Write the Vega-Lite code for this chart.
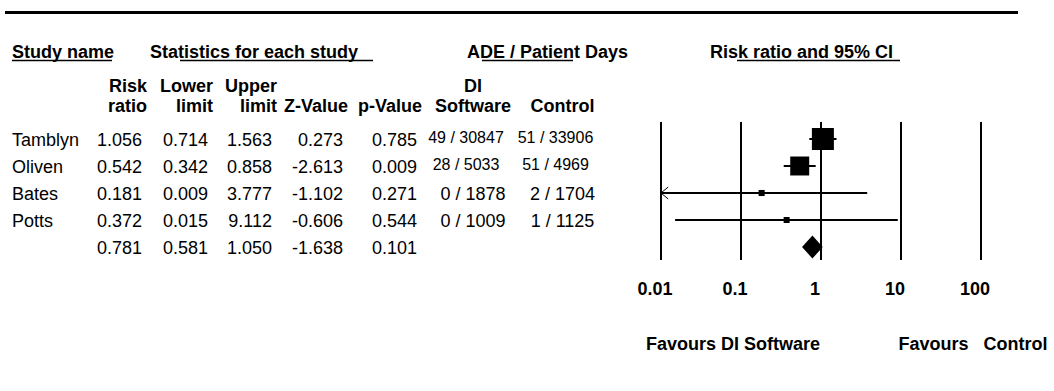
{
  "$schema": "https://vega.github.io/schema/vega-lite/v6.json",
  "width": 1054,
  "height": 391,
  "autosize": {"type": "none"},
  "padding": 0,
  "background": "white",
  "config": {"view": {"stroke": null}, "text": {"font": "Liberation Sans", "fontSize": 18, "color": "black"}, "rule": {"color": "black"}},
  "datasets": {
    "studies": [
      {"study": "Tamblyn", "kind": "study", "row": 0, "rr": 1.056, "lower": 0.714, "upper": 1.563, "weight": 57.1},
      {"study": "Oliven", "kind": "study", "row": 1, "rr": 0.542, "lower": 0.342, "upper": 0.858, "weight": 41.5},
      {"study": "Bates", "kind": "study", "row": 2, "rr": 0.181, "lower": 0.009, "upper": 3.777, "weight": 0.96},
      {"study": "Potts", "kind": "study", "row": 3, "rr": 0.372, "lower": 0.015, "upper": 9.112, "weight": 0.85},
      {"study": "Summary", "kind": "summary", "row": 4, "rr": 0.781, "lower": 0.581, "upper": 1.050, "weight": null}
    ],
    "cells": [
      {"row": -2, "col": 1, "text": "Risk"}, {"row": -2, "col": 2, "text": "Lower"}, {"row": -2, "col": 3, "text": "Upper"}, {"row": -2, "col": 6, "text": "DI"},
      {"row": -1, "col": 1, "text": "ratio"}, {"row": -1, "col": 2, "text": "limit"}, {"row": -1, "col": 3, "text": "limit"}, {"row": -1, "col": 4, "text": "Z-Value"}, {"row": -1, "col": 5, "text": "p-Value"}, {"row": -1, "col": 6, "text": "Software"}, {"row": -1, "col": 7, "text": "Control"},
      {"row": 0, "col": 0, "text": "Tamblyn"}, {"row": 0, "col": 1, "text": "1.056"}, {"row": 0, "col": 2, "text": "0.714"}, {"row": 0, "col": 3, "text": "1.563"}, {"row": 0, "col": 4, "text": "0.273"}, {"row": 0, "col": 5, "text": "0.785"}, {"row": 0, "col": 6, "text": "49 / 30847"}, {"row": 0, "col": 7, "text": "51 / 33906"},
      {"row": 1, "col": 0, "text": "Oliven"}, {"row": 1, "col": 1, "text": "0.542"}, {"row": 1, "col": 2, "text": "0.342"}, {"row": 1, "col": 3, "text": "0.858"}, {"row": 1, "col": 4, "text": "-2.613"}, {"row": 1, "col": 5, "text": "0.009"}, {"row": 1, "col": 6, "text": "28 / 5033"}, {"row": 1, "col": 7, "text": "51 / 4969"},
      {"row": 2, "col": 0, "text": "Bates"}, {"row": 2, "col": 1, "text": "0.181"}, {"row": 2, "col": 2, "text": "0.009"}, {"row": 2, "col": 3, "text": "3.777"}, {"row": 2, "col": 4, "text": "-1.102"}, {"row": 2, "col": 5, "text": "0.271"}, {"row": 2, "col": 6, "text": "0 / 1878"}, {"row": 2, "col": 7, "text": "2 / 1704"},
      {"row": 3, "col": 0, "text": "Potts"}, {"row": 3, "col": 1, "text": "0.372"}, {"row": 3, "col": 2, "text": "0.015"}, {"row": 3, "col": 3, "text": "9.112"}, {"row": 3, "col": 4, "text": "-0.606"}, {"row": 3, "col": 5, "text": "0.544"}, {"row": 3, "col": 6, "text": "0 / 1009"}, {"row": 3, "col": 7, "text": "1 / 1125"},
      {"row": 4, "col": 1, "text": "0.781"}, {"row": 4, "col": 2, "text": "0.581"}, {"row": 4, "col": 3, "text": "1.050"}, {"row": 4, "col": 4, "text": "-1.638"}, {"row": 4, "col": 5, "text": "0.101"}
    ],
    "headers": [
      {"text": "Study name", "at": 0, "us": 0, "ue": 1},
      {"text": "Statistics for each study", "at": 2, "us": 3, "ue": 4},
      {"text": "ADE / Patient Days", "at": 5, "us": 6, "ue": 7},
      {"text": "Risk ratio and 95% CI", "at": 8, "us": 9, "ue": 10}
    ],
    "ticks": [
      {"v": 0.01, "label": "0.01"}, {"v": 0.1, "label": "0.1"}, {"v": 1, "label": "1"}, {"v": 10, "label": "10"}, {"v": 100, "label": "100"}
    ],
    "favours": [
      {"at": 0.1, "text": "Favours DI Software"},
      {"at": 100, "text": "Favours\u00a0\u00a0\u00a0Control"}
    ]
  },
  "resolve": {"scale": {"x": "independent", "y": "independent", "size": "independent"}},
  "layer": [
    {
      "data": {"values": [{"line": "top"}]},
      "mark": {"type": "rule", "strokeWidth": 3},
      "encoding": {
        "x": {"datum": -1, "type": "quantitative", "scale": {"domain": [-1, 0, 1, 2, 3, 4, 5, 6, 7, 8, 9, 10, 11], "range": [5, 12, 112, 150, 180, 373, 467, 482, 573, 710, 737, 900, 1018], "nice": false, "zero": false}, "axis": null},
        "x2": {"datum": 11},
        "y": {"datum": -5, "type": "quantitative", "scale": {"domain": [-5, -4, -3, -2, -1, 0, 4, 5, 6, 7], "range": [12.5, 51.5, 60.5, 85, 105, 139, 247, 260, 288, 343.5], "nice": false, "zero": false}, "axis": null}
      }
    },
    {
      "data": {"name": "headers"},
      "mark": {"type": "text", "align": "left", "baseline": "alphabetic", "dy": 6.5, "fontWeight": "bold"},
      "encoding": {
        "x": {"field": "at", "type": "quantitative", "scale": {"domain": [-1, 0, 1, 2, 3, 4, 5, 6, 7, 8, 9, 10, 11], "range": [5, 12, 112, 150, 180, 373, 467, 482, 573, 710, 737, 900, 1018], "nice": false, "zero": false}, "axis": null},
        "y": {"datum": -4, "type": "quantitative", "scale": {"domain": [-5, -4, -3, -2, -1, 0, 4, 5, 6, 7], "range": [12.5, 51.5, 60.5, 85, 105, 139, 247, 260, 288, 343.5], "nice": false, "zero": false}, "axis": null},
        "text": {"field": "text"}
      }
    },
    {
      "data": {"name": "headers"},
      "mark": {"type": "rule", "strokeWidth": 1.5},
      "encoding": {
        "x": {"field": "us", "type": "quantitative", "scale": {"domain": [-1, 0, 1, 2, 3, 4, 5, 6, 7, 8, 9, 10, 11], "range": [5, 12, 112, 150, 180, 373, 467, 482, 573, 710, 737, 900, 1018], "nice": false, "zero": false}, "axis": null},
        "x2": {"field": "ue"},
        "y": {"datum": -3, "type": "quantitative", "scale": {"domain": [-5, -4, -3, -2, -1, 0, 4, 5, 6, 7], "range": [12.5, 51.5, 60.5, 85, 105, 139, 247, 260, 288, 343.5], "nice": false, "zero": false}, "axis": null}
      }
    },
    {
      "data": {"name": "cells"},
      "transform": [{"filter": "datum.row < 0 && datum.col <= 5"}],
      "mark": {"type": "text", "align": "right", "baseline": "alphabetic", "dx": 5, "dy": 6.5, "fontWeight": "bold"},
      "encoding": {
        "x": {"field": "col", "type": "quantitative", "scale": {"domain": [0, 1, 2, 3, 4, 5, 6, 7], "range": [12, 142, 208, 272, 343, 417, 473, 562.5], "nice": false, "zero": false}, "axis": null},
        "y": {"field": "row", "type": "quantitative", "scale": {"domain": [-5, -4, -3, -2, -1, 0, 4, 5, 6, 7], "range": [12.5, 51.5, 60.5, 85, 105, 139, 247, 260, 288, 343.5], "nice": false, "zero": false}, "axis": null},
        "text": {"field": "text"}
      }
    },
    {
      "data": {"name": "cells"},
      "transform": [{"filter": "datum.row < 0 && datum.col >= 6"}],
      "mark": {"type": "text", "align": "center", "baseline": "alphabetic", "dy": 6.5, "fontWeight": "bold"},
      "encoding": {
        "x": {"field": "col", "type": "quantitative", "scale": {"domain": [0, 1, 2, 3, 4, 5, 6, 7], "range": [12, 142, 208, 272, 343, 417, 473, 562.5], "nice": false, "zero": false}, "axis": null},
        "y": {"field": "row", "type": "quantitative", "scale": {"domain": [-5, -4, -3, -2, -1, 0, 4, 5, 6, 7], "range": [12.5, 51.5, 60.5, 85, 105, 139, 247, 260, 288, 343.5], "nice": false, "zero": false}, "axis": null},
        "text": {"field": "text"}
      }
    },
    {
      "data": {"name": "cells"},
      "transform": [{"filter": "datum.row >= 0 && datum.col == 0"}],
      "mark": {"type": "text", "align": "left", "baseline": "alphabetic", "dy": 6.5},
      "encoding": {
        "x": {"field": "col", "type": "quantitative", "scale": {"domain": [0, 1, 2, 3, 4, 5, 6, 7], "range": [12, 142, 208, 272, 343, 417, 473, 562.5], "nice": false, "zero": false}, "axis": null},
        "y": {"field": "row", "type": "quantitative", "scale": {"domain": [-5, -4, -3, -2, -1, 0, 4, 5, 6, 7], "range": [12.5, 51.5, 60.5, 85, 105, 139, 247, 260, 288, 343.5], "nice": false, "zero": false}, "axis": null},
        "text": {"field": "text"}
      }
    },
    {
      "data": {"name": "cells"},
      "transform": [{"filter": "datum.row >= 0 && datum.col >= 1 && datum.col <= 5"}],
      "mark": {"type": "text", "align": "right", "baseline": "alphabetic", "dy": 6.5},
      "encoding": {
        "x": {"field": "col", "type": "quantitative", "scale": {"domain": [0, 1, 2, 3, 4, 5, 6, 7], "range": [12, 142, 208, 272, 343, 417, 473, 562.5], "nice": false, "zero": false}, "axis": null},
        "y": {"field": "row", "type": "quantitative", "scale": {"domain": [-5, -4, -3, -2, -1, 0, 4, 5, 6, 7], "range": [12.5, 51.5, 60.5, 85, 105, 139, 247, 260, 288, 343.5], "nice": false, "zero": false}, "axis": null},
        "text": {"field": "text"}
      }
    },
    {
      "data": {"name": "cells"},
      "transform": [{"filter": "datum.row >= 0 && datum.col >= 6 && length(datum.text) <= 8"}],
      "mark": {"type": "text", "align": "center", "baseline": "alphabetic", "dy": 6.5},
      "encoding": {
        "x": {"field": "col", "type": "quantitative", "scale": {"domain": [0, 1, 2, 3, 4, 5, 6, 7], "range": [12, 142, 208, 272, 343, 417, 473, 562.5], "nice": false, "zero": false}, "axis": null},
        "y": {"field": "row", "type": "quantitative", "scale": {"domain": [-5, -4, -3, -2, -1, 0, 4, 5, 6, 7], "range": [12.5, 51.5, 60.5, 85, 105, 139, 247, 260, 288, 343.5], "nice": false, "zero": false}, "axis": null},
        "text": {"field": "text"}
      }
    },
    {
      "data": {"name": "cells"},
      "transform": [{"filter": "datum.row >= 0 && datum.col >= 6 && length(datum.text) > 8"}],
      "mark": {"type": "text", "align": "center", "baseline": "alphabetic", "dx": -7, "dy": 4, "fontSize": 16},
      "encoding": {
        "x": {"field": "col", "type": "quantitative", "scale": {"domain": [0, 1, 2, 3, 4, 5, 6, 7], "range": [12, 142, 208, 272, 343, 417, 473, 562.5], "nice": false, "zero": false}, "axis": null},
        "y": {"field": "row", "type": "quantitative", "scale": {"domain": [-5, -4, -3, -2, -1, 0, 4, 5, 6, 7], "range": [12.5, 51.5, 60.5, 85, 105, 139, 247, 260, 288, 343.5], "nice": false, "zero": false}, "axis": null},
        "text": {"field": "text"}
      }
    },
    {
      "data": {"name": "ticks"},
      "mark": {"type": "rule", "strokeWidth": 2},
      "encoding": {
        "x": {"field": "v", "type": "quantitative", "scale": {"type": "log", "domain": [0.01, 100], "range": [661, 981], "clamp": true, "nice": false}, "axis": null},
        "y": {"datum": -0.5, "type": "quantitative", "scale": {"domain": [-5, -4, -3, -2, -1, 0, 4, 5, 6, 7], "range": [12.5, 51.5, 60.5, 85, 105, 139, 247, 260, 288, 343.5], "nice": false, "zero": false}, "axis": null},
        "y2": {"datum": 5}
      }
    },
    {
      "data": {"name": "ticks"},
      "mark": {"type": "text", "align": "center", "baseline": "alphabetic", "dx": -6, "dy": 6.5, "fontWeight": "bold"},
      "encoding": {
        "x": {"field": "v", "type": "quantitative", "scale": {"type": "log", "domain": [0.01, 100], "range": [661, 981], "clamp": true, "nice": false}, "axis": null},
        "y": {"datum": 6, "type": "quantitative", "scale": {"domain": [-5, -4, -3, -2, -1, 0, 4, 5, 6, 7], "range": [12.5, 51.5, 60.5, 85, 105, 139, 247, 260, 288, 343.5], "nice": false, "zero": false}, "axis": null},
        "text": {"field": "label"}
      }
    },
    {
      "data": {"name": "studies"},
      "transform": [{"filter": "datum.kind == 'study'"}],
      "mark": {"type": "rule", "strokeWidth": 2},
      "encoding": {
        "x": {"field": "lower", "type": "quantitative", "scale": {"type": "log", "domain": [0.01, 100], "range": [661, 981], "clamp": true, "nice": false}, "axis": null},
        "x2": {"field": "upper"},
        "y": {"field": "row", "type": "quantitative", "scale": {"domain": [-5, -4, -3, -2, -1, 0, 4, 5, 6, 7], "range": [12.5, 51.5, 60.5, 85, 105, 139, 247, 260, 288, 343.5], "nice": false, "zero": false}, "axis": null}
      }
    },
    {
      "data": {"name": "studies"},
      "transform": [{"filter": "datum.kind == 'study'"}],
      "mark": {"type": "point", "shape": "square", "filled": true, "color": "black", "opacity": 1, "strokeWidth": 0},
      "encoding": {
        "x": {"field": "rr", "type": "quantitative", "scale": {"type": "log", "domain": [0.01, 100], "range": [661, 981], "clamp": true, "nice": false}, "axis": null},
        "y": {"field": "row", "type": "quantitative", "scale": {"domain": [-5, -4, -3, -2, -1, 0, 4, 5, 6, 7], "range": [12.5, 51.5, 60.5, 85, 105, 139, 247, 260, 288, 343.5], "nice": false, "zero": false}, "axis": null},
        "size": {"field": "weight", "type": "quantitative", "scale": {"domain": [0.85, 57.1], "range": [36, 484], "zero": false}, "legend": null}
      }
    },
    {
      "data": {"name": "studies"},
      "transform": [{"filter": "datum.kind == 'summary'"}],
      "mark": {"type": "point", "shape": "M-0.9,0L0,-1L0.9,0L0,1Z", "size": 529, "filled": true, "color": "black", "opacity": 1, "strokeWidth": 0},
      "encoding": {
        "x": {"field": "rr", "type": "quantitative", "scale": {"type": "log", "domain": [0.01, 100], "range": [661, 981], "clamp": true, "nice": false}, "axis": null},
        "y": {"field": "row", "type": "quantitative", "scale": {"domain": [-5, -4, -3, -2, -1, 0, 4, 5, 6, 7], "range": [12.5, 51.5, 60.5, 85, 105, 139, 247, 260, 288, 343.5], "nice": false, "zero": false}, "axis": null}
      }
    },
    {
      "data": {"name": "studies"},
      "transform": [{"filter": "datum.lower < 0.01"}],
      "mark": {"type": "point", "shape": "M1.2,-1L0,0L1.2,1", "size": 144, "filled": false, "color": "black", "opacity": 1, "strokeWidth": 1},
      "encoding": {
        "x": {"field": "lower", "type": "quantitative", "scale": {"type": "log", "domain": [0.01, 100], "range": [661, 981], "clamp": true, "nice": false}, "axis": null},
        "y": {"field": "row", "type": "quantitative", "scale": {"domain": [-5, -4, -3, -2, -1, 0, 4, 5, 6, 7], "range": [12.5, 51.5, 60.5, 85, 105, 139, 247, 260, 288, 343.5], "nice": false, "zero": false}, "axis": null}
      }
    },
    {
      "data": {"name": "favours"},
      "mark": {"type": "text", "align": "center", "baseline": "alphabetic", "dx": -8, "dy": 6.5, "fontWeight": "bold"},
      "encoding": {
        "x": {"field": "at", "type": "quantitative", "scale": {"type": "log", "domain": [0.01, 100], "range": [661, 981], "clamp": true, "nice": false}, "axis": null},
        "y": {"datum": 7, "type": "quantitative", "scale": {"domain": [-5, -4, -3, -2, -1, 0, 4, 5, 6, 7], "range": [12.5, 51.5, 60.5, 85, 105, 139, 247, 260, 288, 343.5], "nice": false, "zero": false}, "axis": null},
        "text": {"field": "text"}
      }
    }
  ]
}
